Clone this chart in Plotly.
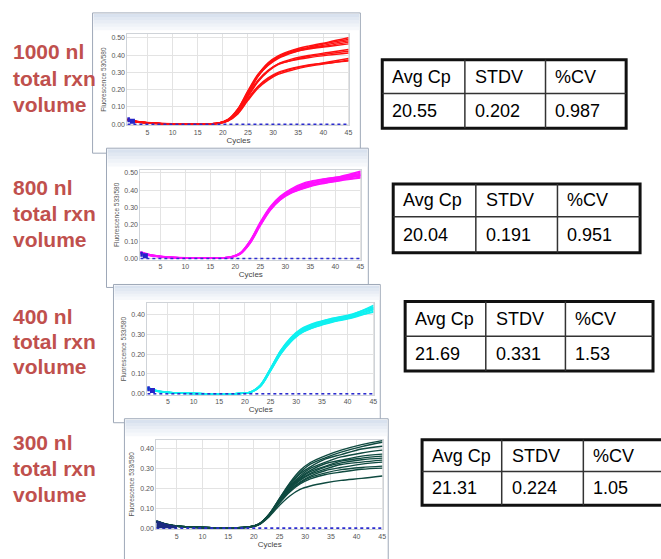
import plotly.graph_objects as go

W, H = 661, 559

# ---------------- data ----------------
cycles = [1, 3, 6, 10, 15, 19, 21, 23, 25, 27, 29, 31, 34, 37, 41, 45]
x_ticks = [5, 10, 15, 20, 25, 30, 35, 40, 45]
neg_control = [0.0, 0.0, 0.0, 0.0, 0.0, 0.0, 0.0, 0.0, 0.0, 0.0, 0.0, 0.0, 0.0, 0.0, 0.0, 0.0]

red_curves = [
    [0.030, 0.016, 0.008, 0.003, 0.002, 0.006, 0.025, 0.085, 0.185, 0.285, 0.355, 0.395, 0.430, 0.452, 0.475, 0.500],
    [0.028, 0.015, 0.007, 0.003, 0.002, 0.007, 0.028, 0.090, 0.195, 0.290, 0.350, 0.390, 0.425, 0.445, 0.470, 0.490],
    [0.026, 0.014, 0.007, 0.002, 0.002, 0.005, 0.022, 0.078, 0.175, 0.275, 0.345, 0.388, 0.420, 0.440, 0.462, 0.482],
    [0.032, 0.017, 0.008, 0.003, 0.002, 0.006, 0.024, 0.082, 0.180, 0.278, 0.340, 0.380, 0.415, 0.438, 0.455, 0.475],
    [0.029, 0.015, 0.007, 0.003, 0.002, 0.006, 0.026, 0.088, 0.190, 0.282, 0.345, 0.385, 0.418, 0.435, 0.450, 0.465],
    [0.027, 0.014, 0.007, 0.003, 0.002, 0.006, 0.023, 0.075, 0.165, 0.250, 0.310, 0.350, 0.380, 0.398, 0.415, 0.432],
    [0.025, 0.013, 0.006, 0.002, 0.002, 0.005, 0.021, 0.070, 0.160, 0.245, 0.305, 0.345, 0.372, 0.392, 0.408, 0.422],
    [0.028, 0.014, 0.007, 0.003, 0.002, 0.006, 0.024, 0.078, 0.170, 0.255, 0.312, 0.348, 0.370, 0.385, 0.400, 0.412],
    [0.026, 0.013, 0.006, 0.002, 0.002, 0.005, 0.020, 0.065, 0.145, 0.215, 0.262, 0.295, 0.322, 0.340, 0.360, 0.380],
    [0.024, 0.012, 0.006, 0.002, 0.002, 0.005, 0.019, 0.060, 0.138, 0.208, 0.255, 0.288, 0.315, 0.335, 0.352, 0.372],
    [0.027, 0.013, 0.006, 0.002, 0.002, 0.005, 0.021, 0.066, 0.148, 0.220, 0.268, 0.300, 0.326, 0.343, 0.356, 0.365],
]

magenta_curves = [
    [0.038, 0.022, 0.010, 0.004, 0.003, 0.008, 0.030, 0.100, 0.205, 0.295, 0.355, 0.395, 0.430, 0.452, 0.475, 0.505],
    [0.035, 0.020, 0.009, 0.004, 0.003, 0.009, 0.033, 0.105, 0.210, 0.300, 0.360, 0.400, 0.440, 0.460, 0.478, 0.498],
    [0.032, 0.018, 0.008, 0.003, 0.003, 0.007, 0.028, 0.095, 0.198, 0.288, 0.348, 0.388, 0.425, 0.448, 0.468, 0.490],
    [0.036, 0.020, 0.009, 0.004, 0.003, 0.008, 0.031, 0.102, 0.208, 0.298, 0.358, 0.392, 0.420, 0.440, 0.462, 0.482],
    [0.030, 0.017, 0.008, 0.003, 0.002, 0.007, 0.027, 0.092, 0.195, 0.285, 0.345, 0.385, 0.418, 0.438, 0.458, 0.475],
    [0.040, 0.023, 0.011, 0.005, 0.003, 0.009, 0.034, 0.108, 0.215, 0.305, 0.365, 0.405, 0.445, 0.462, 0.480, 0.510],
    [0.034, 0.019, 0.009, 0.004, 0.003, 0.008, 0.029, 0.098, 0.200, 0.290, 0.352, 0.392, 0.428, 0.450, 0.470, 0.495],
    [0.033, 0.018, 0.008, 0.003, 0.003, 0.008, 0.030, 0.097, 0.202, 0.292, 0.350, 0.382, 0.415, 0.440, 0.465, 0.485],
    [0.037, 0.021, 0.010, 0.004, 0.003, 0.009, 0.032, 0.104, 0.206, 0.296, 0.357, 0.398, 0.435, 0.455, 0.472, 0.488],
    [0.031, 0.017, 0.008, 0.003, 0.002, 0.007, 0.026, 0.090, 0.192, 0.282, 0.343, 0.380, 0.412, 0.435, 0.455, 0.470],
]

cyan_curves = [
    [0.030, 0.015, 0.006, 0.002, 0.001, 0.002, 0.008, 0.042, 0.125, 0.215, 0.280, 0.322, 0.355, 0.375, 0.400, 0.445],
    [0.028, 0.014, 0.005, 0.002, 0.001, 0.002, 0.009, 0.045, 0.130, 0.220, 0.285, 0.328, 0.360, 0.380, 0.402, 0.438],
    [0.026, 0.013, 0.005, 0.002, 0.001, 0.002, 0.007, 0.038, 0.118, 0.205, 0.270, 0.312, 0.345, 0.368, 0.392, 0.430],
    [0.032, 0.016, 0.006, 0.002, 0.001, 0.002, 0.008, 0.040, 0.122, 0.210, 0.272, 0.315, 0.348, 0.365, 0.385, 0.422],
    [0.029, 0.014, 0.006, 0.002, 0.001, 0.002, 0.007, 0.036, 0.115, 0.200, 0.262, 0.305, 0.338, 0.360, 0.382, 0.415],
    [0.027, 0.013, 0.005, 0.002, 0.001, 0.002, 0.009, 0.044, 0.128, 0.218, 0.282, 0.325, 0.357, 0.378, 0.398, 0.428],
    [0.031, 0.015, 0.006, 0.002, 0.001, 0.002, 0.008, 0.041, 0.124, 0.212, 0.276, 0.318, 0.350, 0.370, 0.390, 0.410],
    [0.025, 0.012, 0.005, 0.002, 0.001, 0.002, 0.007, 0.037, 0.117, 0.203, 0.266, 0.308, 0.340, 0.362, 0.388, 0.435],
    [0.030, 0.015, 0.006, 0.002, 0.001, 0.002, 0.008, 0.043, 0.126, 0.216, 0.279, 0.320, 0.352, 0.374, 0.396, 0.425],
]

green_curves = [
    [0.036, 0.020, 0.008, 0.003, 0.002, 0.006, 0.020, 0.070, 0.150, 0.228, 0.290, 0.330, 0.365, 0.392, 0.420, 0.440],
    [0.034, 0.019, 0.008, 0.003, 0.002, 0.006, 0.022, 0.072, 0.148, 0.222, 0.280, 0.322, 0.355, 0.382, 0.410, 0.432],
    [0.032, 0.018, 0.007, 0.003, 0.002, 0.005, 0.019, 0.068, 0.145, 0.215, 0.272, 0.308, 0.348, 0.370, 0.398, 0.412],
    [0.035, 0.019, 0.008, 0.003, 0.002, 0.006, 0.021, 0.070, 0.142, 0.210, 0.262, 0.300, 0.332, 0.358, 0.378, 0.392],
    [0.033, 0.018, 0.007, 0.003, 0.002, 0.005, 0.020, 0.066, 0.138, 0.205, 0.255, 0.290, 0.325, 0.342, 0.362, 0.372],
    [0.036, 0.020, 0.008, 0.003, 0.002, 0.006, 0.021, 0.069, 0.140, 0.204, 0.250, 0.284, 0.312, 0.337, 0.352, 0.362],
    [0.031, 0.017, 0.007, 0.003, 0.002, 0.005, 0.019, 0.064, 0.135, 0.198, 0.245, 0.276, 0.308, 0.328, 0.344, 0.352],
    [0.034, 0.019, 0.008, 0.003, 0.002, 0.006, 0.020, 0.067, 0.136, 0.196, 0.240, 0.270, 0.298, 0.320, 0.332, 0.342],
    [0.033, 0.018, 0.007, 0.003, 0.002, 0.005, 0.019, 0.063, 0.130, 0.190, 0.232, 0.262, 0.290, 0.305, 0.322, 0.332],
    [0.035, 0.019, 0.008, 0.003, 0.002, 0.006, 0.020, 0.065, 0.132, 0.188, 0.228, 0.255, 0.278, 0.294, 0.305, 0.312],
    [0.032, 0.017, 0.007, 0.003, 0.002, 0.005, 0.018, 0.062, 0.126, 0.182, 0.222, 0.248, 0.270, 0.282, 0.296, 0.302],
    [0.034, 0.018, 0.007, 0.003, 0.002, 0.005, 0.018, 0.058, 0.115, 0.162, 0.195, 0.212, 0.228, 0.240, 0.250, 0.262],
]

start_x = [1, 2, 3, 4, 5]
start_y = [0.035, 0.026, 0.017, 0.011, 0.007]

volume_labels = ["1000 nl", "800 nl", "400 nl", "300 nl"]
table_headers = ["Avg Cp", "STDV", "%CV"]
avg_cp = ["20.55", "20.04", "21.69", "21.31"]
stdv = ["0.202", "0.191", "0.331", "0.224"]
pct_cv = ["0.987", "0.951", "1.53", "1.05"]

# ---------------- layout geometry (pixels) ----------------
def fx(px):
    return px / W

def fy(py):
    return 1 - py / H

panels = [
    dict(frame=(93, 12, 362, 153), plot=(128, 33, 351, 125), yr=(-0.006, 0.523),
         color="#ff1010", curves=red_curves, ytitle="Fluorescence 530/580"),
    dict(frame=(107, 148, 370, 288), plot=(141, 170, 363, 260), yr=(-0.006, 0.517),
         color="#ff10ff", curves=magenta_curves, ytitle="Fluorescence 533/580"),
    dict(frame=(114, 285, 382, 424), plot=(148, 304, 376, 396), yr=(-0.005, 0.455),
         color="#10f0f0", curves=cyan_curves, ytitle="Fluorescence 533/580"),
    dict(frame=(125, 420, 390, 565), plot=(157, 441, 385, 531), yr=(-0.005, 0.445),
         color="#0f4a40", curves=green_curves, ytitle="Fluorescence 533/580"),
]

tables = [
    (384, 59, 629, 128, 93, 467, 548),
    (395, 184, 643, 253, 217, 478, 560),
    (407, 302, 656, 372, 337, 488, 568),
    (424, 441, 668, 507, 473, 504, 586),
]

label_rows = [(51, 78, 104), (188, 214, 240), (317, 342, 367), (444, 470, 496)]

fig = go.Figure()
shapes = []
annotations = []
layout_axes = {}

header_cols = ["#d9e2ef", "#e1e8f2", "#e8edf5", "#eff3f8", "#f6f8fb"]

for i, p in enumerate(panels):
    n = i + 1
    fl, ft, fr, fb = p["frame"]
    pl, pt, pr, pb = p["plot"]
    shapes.append(dict(type="rect", xref="paper", yref="paper", layer="below",
                       x0=fx(fl), x1=fx(fr), y0=fy(fb), y1=fy(ft),
                       fillcolor="white", line=dict(color="#9ea8b8", width=1)))
    hb = pt - 4
    step = (hb - (ft + 1)) / len(header_cols)
    for k, c in enumerate(header_cols):
        y0p = ft + 1 + k * step
        shapes.append(dict(type="rect", xref="paper", yref="paper", layer="below",
                           x0=fx(fl + 1), x1=fx(fr - 1), y0=fy(y0p + step + 0.5), y1=fy(y0p),
                           fillcolor=c, line=dict(width=0)))
    xa = "xaxis" if n == 1 else f"xaxis{n}"
    ya = "yaxis" if n == 1 else f"yaxis{n}"
    xr = "x" if n == 1 else f"x{n}"
    yr = "y" if n == 1 else f"y{n}"
    layout_axes[xa] = dict(domain=[fx(pl), fx(pr)], anchor=yr, range=[1, 45.2],
                           tickvals=x_ticks, showgrid=True, gridcolor="#e3e3e3", gridwidth=1,
                           showline=True, linecolor="#cfd3d8", mirror=True, zeroline=False,
                           ticks="", tickfont=dict(size=7, color="#555555"),
                           title=dict(text="Cycles", font=dict(size=8, color="#444444"), standoff=2),
                           fixedrange=True)
    layout_axes[ya] = dict(domain=[fy(pb), fy(pt)], anchor=xr, range=list(p["yr"]),
                           dtick=0.1, tick0=0, tickformat=".2f", showgrid=True,
                           gridcolor="#e3e3e3", gridwidth=1, showline=True,
                           linecolor="#cfd3d8", mirror=True, zeroline=False, ticks="",
                           tickfont=dict(size=7, color="#555555"),
                           title=dict(text=p["ytitle"], font=dict(size=6.5, color="#555555"), standoff=4),
                           fixedrange=True)
    for c in p["curves"]:
        fig.add_trace(go.Scatter(x=cycles, y=c, mode="lines", xaxis=xr, yaxis=yr,
                                 line=dict(color=p["color"], width=1.4, shape="spline", smoothing=0.9),
                                 hoverinfo="skip", showlegend=False))
    fig.add_trace(go.Scatter(x=cycles, y=neg_control, mode="lines", xaxis=xr, yaxis=yr,
                             line=dict(color="#2c2cd0", width=1.6, dash="dot"),
                             hoverinfo="skip", showlegend=False))
    if n == 4:
        fig.add_trace(go.Scatter(x=start_x, y=start_y, mode="lines", xaxis=xr, yaxis=yr,
                                 fill="tozeroy", fillcolor="#1a2a80",
                                 line=dict(color="#1a2a80", width=1.5, shape="spline"),
                                 hoverinfo="skip", showlegend=False))
    else:
        fig.add_trace(go.Scatter(x=start_x[:2], y=start_y[1:3], mode="markers", xaxis=xr, yaxis=yr,
                                 marker=dict(color="#2424c8", size=5, symbol="square"),
                                 hoverinfo="skip", showlegend=False))

for i, rows in enumerate(label_rows):
    texts = [volume_labels[i], "total rxn", "volume"]
    for t, yc in zip(texts, rows):
        annotations.append(dict(xref="paper", yref="paper", x=fx(11), y=fy(yc),
                                xanchor="left", yanchor="middle", showarrow=False,
                                text=t, font=dict(family="Liberation Sans, Arial", size=21,
                                                  color="#c0504d", weight="bold")))

for i, (l, t, r, b, m, c1, c2) in enumerate(tables):
    shapes.append(dict(type="rect", xref="paper", yref="paper", layer="above",
                       x0=fx(l), x1=fx(r), y0=fy(b), y1=fy(t),
                       fillcolor="rgba(0,0,0,0)", line=dict(color="#111111", width=3)))
    shapes.append(dict(type="line", xref="paper", yref="paper", layer="above",
                       x0=fx(l), x1=fx(r), y0=fy(m), y1=fy(m),
                       line=dict(color="#333333", width=1.5)))
    for cx in (c1, c2):
        shapes.append(dict(type="line", xref="paper", yref="paper", layer="above",
                           x0=fx(cx), x1=fx(cx), y0=fy(b), y1=fy(t),
                           line=dict(color="#333333", width=1.5)))
    row1 = (t + m) / 2
    row2 = (m + b) / 2
    vals = [avg_cp[i], stdv[i], pct_cv[i]]
    for cx, head, val in zip((l, c1, c2), table_headers, vals):
        annotations.append(dict(xref="paper", yref="paper", x=fx(cx + 8), y=fy(row1),
                                xanchor="left", yanchor="middle", showarrow=False, text=head,
                                font=dict(family="Liberation Sans, Arial", size=18, color="#000000")))
        annotations.append(dict(xref="paper", yref="paper", x=fx(cx + 8), y=fy(row2),
                                xanchor="left", yanchor="middle", showarrow=False, text=val,
                                font=dict(family="Liberation Sans, Arial", size=18, color="#000000")))

fig.update_layout(width=W, height=H, autosize=False,
                  margin=dict(l=0, r=0, t=0, b=0),
                  paper_bgcolor="white", plot_bgcolor="rgba(0,0,0,0)",
                  font=dict(family="Liberation Sans, Arial"),
                  showlegend=False, shapes=shapes, annotations=annotations,
                  **layout_axes)

fig.write_html("out.html", config=dict(displayModeBar=False),
               post_script="document.body.style.margin='0px';document.body.style.padding='0px';")
